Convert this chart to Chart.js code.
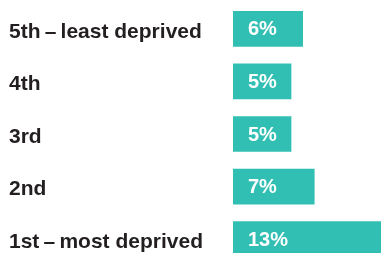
<!DOCTYPE html>
<html>
<head>
<meta charset="utf-8">
<script src="https://cdn.jsdelivr.net/npm/chart.js@4/dist/chart.umd.min.js"></script>
<style>
  html, body { margin: 0; padding: 0; background: #fff; overflow: hidden; }
  /* the last bar runs off the bottom of the picture, so the canvas is taller than the window */
  #wrap { position: relative; width: 381px; height: 294px; margin-top: -13px; }
</style>
</head>
<body>
<div id="wrap"><canvas id="deprivation"></canvas></div>
<script>
// quintiles, top to bottom
var quintiles = ["5th\u2009\u2013\u2009least deprived", "4th", "3rd", "2nd", "1st\u2009\u2013\u2009most deprived"];
var shares = [6, 5, 5, 7, 13];

var teal = '#32bfb3';
var ink = '#231f20';

// white value text inside the start of each bar
var barValues = {
  id: 'barValues',
  afterDatasetsDraw: function(chart) {
    var ctx = chart.ctx;
    var meta = chart.getDatasetMeta(0);
    ctx.save();
    ctx.fillStyle = '#fff';
    ctx.font = 'bold 20px "Liberation Sans", Arial, sans-serif';
    ctx.textAlign = 'left';
    ctx.textBaseline = 'middle';
    meta.data.forEach(function(bar, i) {
      ctx.fillText(shares[i] + '%', bar.base + 15, bar.y + 1);
    });
    ctx.restore();
  }
};

var ctx = document.getElementById('deprivation').getContext('2d');
var chart = new Chart(ctx, {
  type: 'bar',
  data: {
    labels: quintiles,
    datasets: [{
      data: shares,
      backgroundColor: teal,
      borderWidth: 0,
      barThickness: 35
    }]
  },
  options: {
    indexAxis: 'y',
    responsive: true,
    maintainAspectRatio: false,
    animation: false,
    layout: { padding: { left: 9, top: 0, right: 0, bottom: 0 } },
    plugins: {
      legend: { display: false },
      tooltip: { enabled: false }
    },
    scales: {
      x: {
        display: false,
        min: 0,
        max: 12.75
      },
      y: {
        grid: { display: false },
        border: { display: false },
        afterFit: function(scale) { scale.width = 224; },
        ticks: {
          crossAlign: 'far',
          labelOffset: 3,
          color: ink,
          font: { family: '"Liberation Sans", Arial, sans-serif', size: 21, weight: 'bold' }
        }
      }
    }
  },
  plugins: [barValues]
});
</script>
</body>
</html>
